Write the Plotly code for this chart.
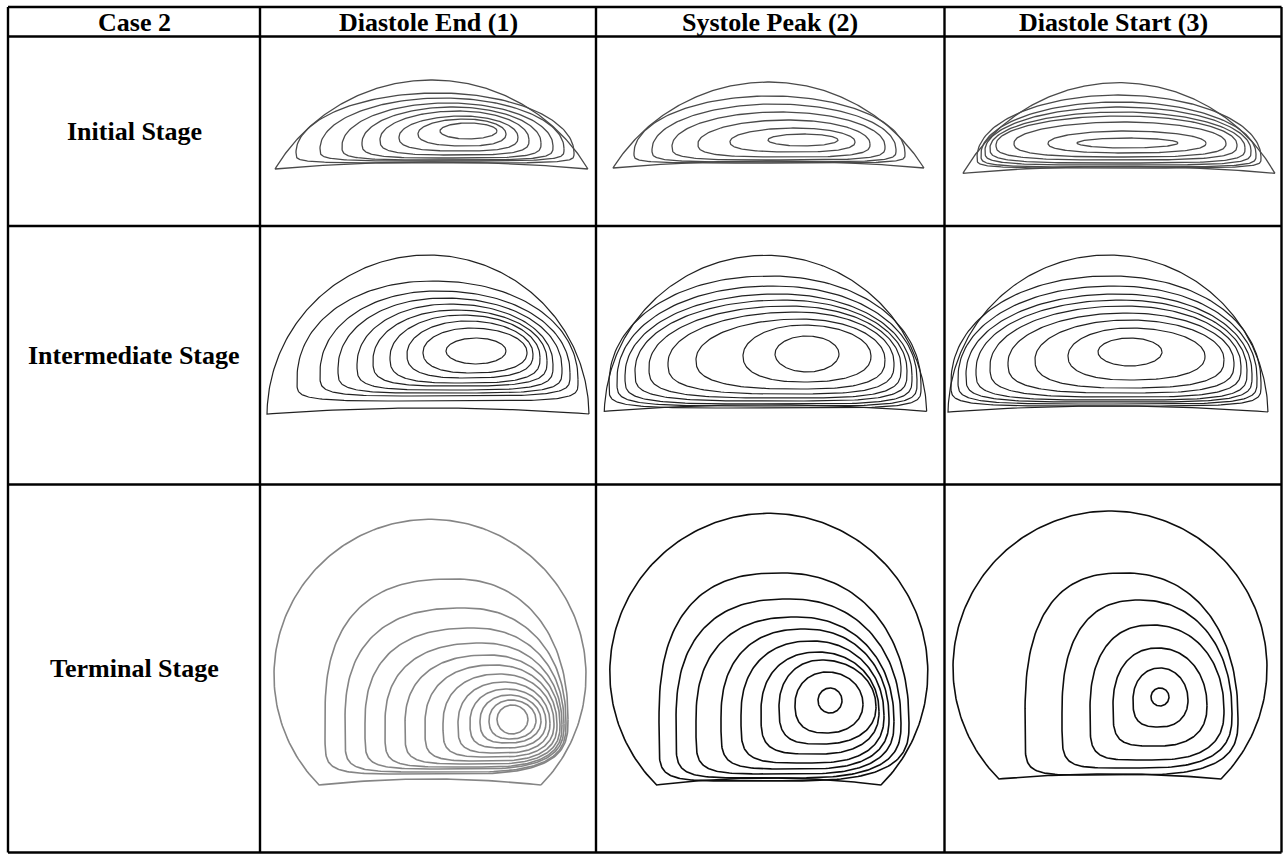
import numpy as np
import plotly.graph_objects as go

FIG_W, FIG_H = 1285, 855

# ---------------- table data ----------------
col_lines = [8, 260, 596, 944.5, 1281.5]
row_lines = [7, 36.5, 226, 484.5, 852.5]
header_labels = ["Case 2", "Diastole End (1)", "Systole Peak (2)", "Diastole Start (3)"]
stage_labels = ["Initial Stage", "Intermediate Stage", "Terminal Stage"]

# ---------------- streamline data (pixel units of the page) ----------------
# outer wall: [circle cx, circle cy, radius, chord y, bottom sag]
# loops: (left x, right x, top y, bottom y, x of top)
de_init_outer = [431.5, 262, 182, 169, 7]
de_init_loops = [
    (296, 574, 93, 163, 438), (320, 564, 98, 161, 443), (342, 553, 103, 160, 448),
    (362, 541, 107, 158, 453), (380, 529, 111, 155, 458), (399, 518, 116, 151, 462),
    (418, 506, 119, 146, 465), (440, 497, 123, 139, 468),
]
sp_init_outer = [768.5, 265.6, 183.6, 168, 7]
sp_init_loops = [
    (634, 905, 96, 163, 770), (652, 896, 104, 162, 775), (672, 885, 112, 160, 780),
    (698, 870, 120, 157, 788), (730, 855, 128, 152, 795), (768, 838, 134, 146, 803),
]
ds_init_outer = [1119, 262.3, 179.6, 173.3, 7]
ds_init_loops = [
    (977, 1261, 95, 168, 1118), (981, 1256, 102, 167, 1119), (985, 1251, 107, 165, 1120),
    (990, 1245, 112, 163, 1121), (996, 1237, 116, 160, 1122), (1014, 1226, 122, 157, 1124),
    (1048, 1206, 131, 153, 1126), (1077, 1178, 138, 148, 1127),
]
de_mid_outer = [428, 416, 161, 414, 6]
de_mid_loops = [
    (297, 578, 281, 401, 433), (320, 570, 291, 396, 438), (338, 562, 298, 393, 444),
    (357, 553, 304, 390, 450), (373, 547, 310, 386, 456), (390, 540, 315, 383, 462),
    (407, 533, 321, 378, 467), (423, 527, 328, 373, 471), (446, 506, 338, 364, 476),
]
sp_mid_outer = [765.5, 416.6, 161.3, 411.3, 6.5]
sp_mid_loops = [
    (609, 921, 276, 408, 769), (617, 917, 286, 406, 773), (625, 912, 294, 404, 778),
    (635, 907, 300, 401, 783), (649, 901, 306, 398, 789), (668, 894, 312, 394, 796),
    (696, 885, 319, 389, 801), (743, 871, 325, 382, 804), (775, 839, 336, 372, 807),
]
ds_mid_outer = [1108, 415, 160, 412, 6]
ds_mid_loops = [
    (951, 1261, 276, 406, 1110), (958, 1257, 286, 404, 1114), (966, 1252, 294, 402, 1118),
    (976, 1247, 300, 400, 1121), (990, 1241, 306, 397, 1124), (1008, 1234, 313, 393, 1127),
    (1035, 1224, 320, 388, 1129), (1068, 1205, 328, 380, 1130), (1098, 1162, 338, 366, 1130),
]
de_term_outer = [430, 675.3, 156, 785, 6]
de_term_loops = [
    (325, 568, 579, 774, 455), (345, 566, 608, 772, 465), (365, 564, 628, 769, 474),
    (385, 562, 643, 767, 482), (405, 560, 655, 764, 489), (425, 557, 665, 761, 495),
    (443, 554, 674, 757, 500), (458, 550, 682, 753, 504), (470, 546, 689, 748, 507),
    (480, 541, 695, 743, 509), (489, 536, 700, 739, 511), (497, 528, 705, 734, 512),
]
sp_term_outer = [768.8, 672.3, 159, 785, 7]
sp_term_loops = [
    (659, 909, 573, 781, 782), (676, 901, 599, 778, 790), (696, 894, 617, 774, 797),
    (721, 889, 629, 769, 805), (741, 884, 641, 763, 812), (761, 879, 652, 754, 818),
    (779, 876, 660, 744, 822), (795, 863, 672, 733, 827), (818, 842, 688, 713, 830),
]
ds_term_outer = [1110, 668, 157, 779, 5]
ds_term_loops = [
    (1025, 1238, 573, 775, 1125), (1062, 1232, 600, 768, 1140), (1090, 1224, 625, 760, 1152),
    (1113, 1207, 648, 746, 1158), (1133, 1188, 668, 727, 1160), (1151, 1169, 688, 706, 1160),
]

panels = [
    # (row, col, outer, loops, style key)
    (0, 1, de_init_outer, de_init_loops, "init"),
    (0, 2, sp_init_outer, sp_init_loops, "init"),
    (0, 3, ds_init_outer, ds_init_loops, "init"),
    (1, 1, de_mid_outer, de_mid_loops, "mid"),
    (1, 2, sp_mid_outer, sp_mid_loops, "mid"),
    (1, 3, ds_mid_outer, ds_mid_loops, "mid"),
    (2, 1, de_term_outer, de_term_loops, "term_grey"),
    (2, 2, sp_term_outer, sp_term_loops, "term"),
    (2, 3, ds_term_outer, ds_term_loops, "term"),
]

# style: colour, width, waist fraction (outer, inner), quadrant exponents outer (tl,tr,bl,br)
styles = {
    "init": dict(color="#4a4a4a", width=1.3, f=(0.85, 0.5), ex=(2.0, 2.0, 5.0, 5.0)),
    "mid": dict(color="#222222", width=1.2, f=(0.82, 0.5), ex=(2.1, 2.1, 5.0, 5.0)),
    "term_grey": dict(color="#858585", width=1.6, f=(0.72, 0.5), ex=(2.6, 2.2, 7.0, 3.0)),
    "term": dict(color="#0d0d0d", width=1.6, f=(0.72, 0.5), ex=(2.6, 2.2, 7.0, 3.0)),
}


def outer_path(cx, cy, r, chord, sag, n=200):
    th0 = np.arcsin((cy - chord) / r)
    th = np.linspace(th0, np.pi - th0, n)
    x = cx + r * np.cos(th)
    y = cy - r * np.sin(th)
    dx = r * np.cos(th0)
    xb = np.linspace(cx - dx, cx + dx, 60)
    u = (xb - cx) / dx
    yb = chord - sag * (1 - u ** 2)
    return np.concatenate([x, xb]), np.concatenate([y, yb])


def loop_path(xl, xr, yt, yb, xp, f, ex, n=50):
    ym = yt + f * (yb - yt)
    t = np.linspace(0, np.pi / 2, n)
    c = np.clip(np.cos(t), 0, 1)
    s = np.clip(np.sin(t), 0, 1)
    n_tl, n_tr, n_bl, n_br = ex
    x_tr = xp + (xr - xp) * c ** (2 / n_tr)
    y_tr = ym - (ym - yt) * s ** (2 / n_tr)
    x_tl = xp - (xp - xl) * c[::-1] ** (2 / n_tl)
    y_tl = ym - (ym - yt) * s[::-1] ** (2 / n_tl)
    x_bl = xp - (xp - xl) * c ** (2 / n_bl)
    y_bl = ym + (yb - ym) * s ** (2 / n_bl)
    x_br = xp + (xr - xp) * c[::-1] ** (2 / n_br)
    y_br = ym + (yb - ym) * s[::-1] ** (2 / n_br)
    x = np.concatenate([x_tr, x_tl, x_bl, x_br])
    y = np.concatenate([y_tr, y_tl, y_bl, y_br])
    return x, y


fig = go.Figure()

for row, col, outer, loops, skey in panels:
    st = styles[skey]
    xs, ys = [], []
    ox, oy = outer_path(*outer)
    xs += list(ox) + [ox[0], None]
    ys += list(oy) + [oy[0], None]
    nl = len(loops)
    for i, (xl, xr, yt, yb, xp) in enumerate(loops):
        w = i / max(nl - 1, 1)
        f = st["f"][0] * (1 - w) + st["f"][1] * w
        ex = tuple(e * (1 - w) + 2.0 * w for e in st["ex"])
        lx, ly = loop_path(xl, xr, yt, yb, xp, f, ex)
        xs += list(lx) + [lx[0], None]
        ys += list(ly) + [ly[0], None]
    fig.add_trace(go.Scatter(
        x=xs, y=ys, mode="lines", hoverinfo="skip", showlegend=False,
        line=dict(color=st["color"], width=st["width"], shape="linear"),
    ))

# table grid
for xv in col_lines:
    fig.add_shape(type="line", x0=xv, x1=xv, y0=row_lines[0], y1=row_lines[-1],
                  xref="x", yref="y", line=dict(color="black", width=2.4))
for yv in row_lines:
    fig.add_shape(type="line", x0=col_lines[0], x1=col_lines[-1], y0=yv, y1=yv,
                  xref="x", yref="y", line=dict(color="black", width=2.4))

font = dict(family="Liberation Serif, Times New Roman, serif", size=26, color="black")
for j, lab in enumerate(header_labels):
    fig.add_annotation(x=(col_lines[j] + col_lines[j + 1]) / 2,
                       y=(row_lines[0] + row_lines[1]) / 2 + 1,
                       text="<b>%s</b>" % lab, showarrow=False, font=font,
                       xref="x", yref="y", xanchor="center", yanchor="middle")
for i, lab in enumerate(stage_labels):
    fig.add_annotation(x=(col_lines[0] + col_lines[1]) / 2,
                       y=(row_lines[i + 1] + row_lines[i + 2]) / 2,
                       text="<b>%s</b>" % lab, showarrow=False, font=font,
                       xref="x", yref="y", xanchor="center", yanchor="middle")

fig.update_layout(
    width=FIG_W, height=FIG_H,
    margin=dict(l=0, r=0, t=0, b=0),
    paper_bgcolor="white", plot_bgcolor="white",
    xaxis=dict(range=[0, FIG_W], visible=False, fixedrange=True),
    yaxis=dict(range=[FIG_H, 0], visible=False, fixedrange=True),
    showlegend=False,
)

fig.write_html("out.html", config={"displayModeBar": False},
               post_script="document.body.style.margin='0';document.body.style.overflow='hidden';")
